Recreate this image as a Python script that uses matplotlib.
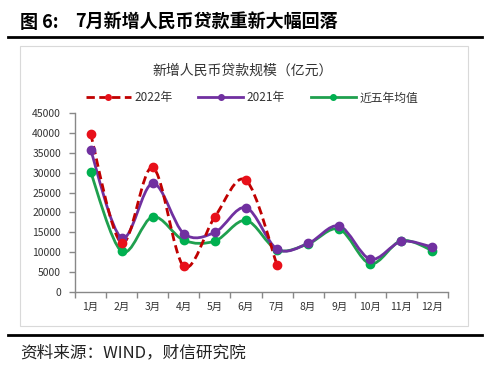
import matplotlib
matplotlib.use('Agg')
import matplotlib.pyplot as plt
from matplotlib.path import Path
from matplotlib.patches import PathPatch, Rectangle
from matplotlib.lines import Line2D
import numpy as np

plt.rcParams['font.family'] = ['Noto Sans CJK SC', 'DejaVu Sans']

months = ['1月', '2月', '3月', '4月', '5月', '6月', '7月', '8月', '9月', '10月', '11月', '12月']
loans_2022 = [39800, 12300, 31300, 6454, 18900, 28100, 6790]
loans_2021 = [35800, 13600, 27300, 14700, 15000, 21200, 10800, 12200, 16600, 8262, 12700, 11300]
loans_5yr = [30200, 10200, 18900, 13000, 12800, 18000, 10600, 12100, 15800, 7100, 12900, 10400]
yticks = [0, 5000, 10000, 15000, 20000, 25000, 30000, 35000, 40000, 45000]


def smooth_path(xs, ys):
    # Excel-style smoothed line: Catmull-Rom segments as cubic Bezier curves
    pts = np.column_stack([xs, ys]).astype(float)
    verts = [pts[0]]
    codes = [Path.MOVETO]
    n = len(pts)
    for i in range(n - 1):
        p0 = pts[i - 1] if i > 0 else pts[i]
        p1 = pts[i]
        p2 = pts[i + 1]
        p3 = pts[i + 2] if i + 2 < n else pts[i + 1]
        c1 = p1 + (p2 - p0) / 6.0
        c2 = p2 - (p3 - p1) / 6.0
        verts += [c1, c2, p2]
        codes += [Path.CURVE4] * 3
    return Path(verts, codes)


fig = plt.figure(figsize=(5, 3.73), dpi=100)

# chart frame
fig.patches.append(Rectangle((20 / 500, 1 - 326 / 373), 448 / 500, 280 / 373,
                             transform=fig.transFigure, fill=False,
                             edgecolor='#d9d9d9', linewidth=0.8))

# top title and rules
fig.text(20 / 500, 1 - 22 / 373, '图 6:', fontsize=13, fontweight='bold',
         va='center', ha='left')
fig.text(75 / 500, 1 - 22 / 373, '7月新增人民币贷款重新大幅回落',
         fontsize=13, fontweight='bold', va='center', ha='left')
fig.add_artist(Line2D([8 / 500, 482 / 500], [1 - 37 / 373, 1 - 37 / 373],
                      transform=fig.transFigure, color='black', linewidth=2))
fig.add_artist(Line2D([8 / 500, 482 / 500], [1 - 335 / 373, 1 - 335 / 373],
                      transform=fig.transFigure, color='black', linewidth=2))
fig.text(20 / 500, 1 - 353 / 373, '资料来源：WIND，财信研究院',
         fontsize=12, style='italic', va='center', ha='left', color='#222222')

fig.text(243 / 500, 1 - 71 / 373, '新增人民币贷款规模（亿元）',
         fontsize=10, va='center', ha='center', color='#333333')

ax = fig.add_axes([75 / 500, 1 - 292 / 373, 373 / 500, 179 / 373])
x_all = np.arange(1, 13)

series = [
    (loans_2022, '#C00000', '#E8101A', (0, (3, 1.6)), '2022年'),
    (loans_2021, '#7030A0', '#7030A0', '-', '2021年'),
    (loans_5yr, '#1FA04E', '#00B050', '-', '近五年均值'),
]
for vals, lc, mc, ls, lab in series[::-1]:
    xs = x_all[:len(vals)]
    ax.add_patch(PathPatch(smooth_path(xs, vals), facecolor='none',
                           edgecolor=lc, linewidth=2, linestyle=ls))
    ax.plot(xs, vals, linestyle='none', marker='o', markersize=6,
            color=mc)

ax.set_xlim(0.5, 12.5)
ax.set_ylim(0, 45000)
ax.set_yticks(yticks)
ax.set_yticklabels([str(v) for v in yticks], fontsize=7.5, color='#333333')
ax.set_xticks(np.arange(0.5, 13, 1))
ax.set_xticklabels([])
ax.set_xticks(x_all, minor=True)
ax.set_xticklabels(months, minor=True, fontsize=7.5, color='#333333')
ax.tick_params(axis='x', which='minor', length=0, pad=7)
ax.tick_params(axis='x', which='major', length=4, width=1, color='#888888', direction='out')
ax.tick_params(axis='y', length=4, width=1, color='#888888', direction='out', pad=6)
for s in ['top', 'right']:
    ax.spines[s].set_visible(False)
for s in ['left', 'bottom']:
    ax.spines[s].set_color('#888888')
    ax.spines[s].set_linewidth(1)

handles = [Line2D([0], [0], color=lc, linestyle=ls, linewidth=2,
                  marker='o', markersize=4, markerfacecolor=mc, markeredgecolor=mc)
           for vals, lc, mc, ls, lab in series]
labels = [s[4] for s in series]
fig.legend(handles, labels, loc='center', bbox_to_anchor=(252 / 500, 1 - 98 / 373),
           ncol=3, frameon=False, fontsize=8.5, handlelength=3.8,
           columnspacing=2.2, handletextpad=0.3, labelcolor='#333333')

fig.savefig('out.png', dpi=100)
